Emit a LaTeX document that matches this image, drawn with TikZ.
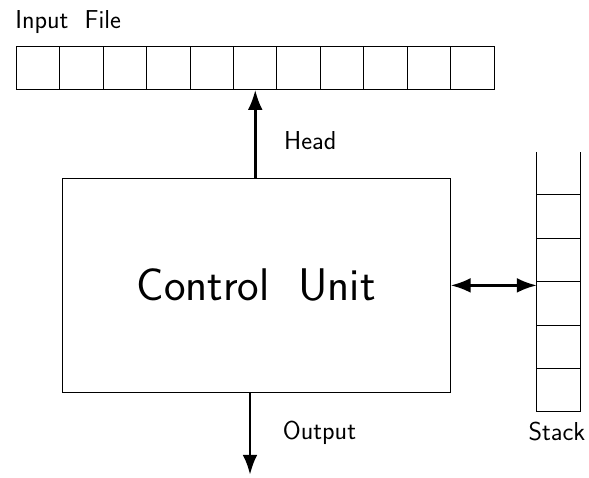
\documentclass[tikz,border=0pt]{standalone}
\usetikzlibrary{arrows.meta}
\tikzset{
  cellbox/.style={draw,line width=0.6pt,minimum size=1cm,inner sep=0pt,anchor=south west},
  thickarrow/.style={line width=1.8pt,-{Latex[length=0.46cm,width=0.34cm]}},
  bothways/.style={line width=1.8pt,{Latex[length=0.46cm,width=0.34cm]}-{Latex[length=0.46cm,width=0.34cm]}},
  lbl/.style={font=\sffamily\fontsize{17}{20}\selectfont}
}
\begin{document}
\begin{tikzpicture}[x=1cm,y=1cm]
    \useasboundingbox (0,0) rectangle (13.57,10.99);
    % tape
    \foreach \i in {1,...,11}
      \node[cellbox] (cell\i) at (\i-0.63,8.92) {};
    \node[lbl] (infile) at (1.57,10.48) {Input\ \ File};
    % control unit
    \node[draw,line width=0.6pt,minimum width=8.94cm,minimum height=4.95cm,
          font=\sffamily\fontsize{30}{36}\selectfont] (cu) at (5.9,4.415) {Control\ \ Unit};
    \draw[thickarrow] (cu.north -| cell6) -- (cell6.south);
    \node[lbl] (head) at (7.15,7.76) {Head};
    \coordinate (out) at (5.76,0.05);
    \draw[thickarrow] (cu.south -| out) -- (out);
    \node[lbl] (output) at (7.36,1.01) {Output};
    % stack, open at the top
    \draw[line width=0.6pt] (12.37,7.49) -- (12.37,1.5) -- (13.37,1.5) -- (13.37,7.49);
    \foreach \y in {2.5,3.5,4.5,5.5,6.5} \draw[line width=0.6pt] (12.37,\y) -- (13.37,\y);
    \coordinate (stk) at (12.37,4.415);
    \draw[bothways] (cu.east) -- (stk);
    \node[lbl] (stack) at (12.83,1.04) {Stack};
\end{tikzpicture}
\end{document}
